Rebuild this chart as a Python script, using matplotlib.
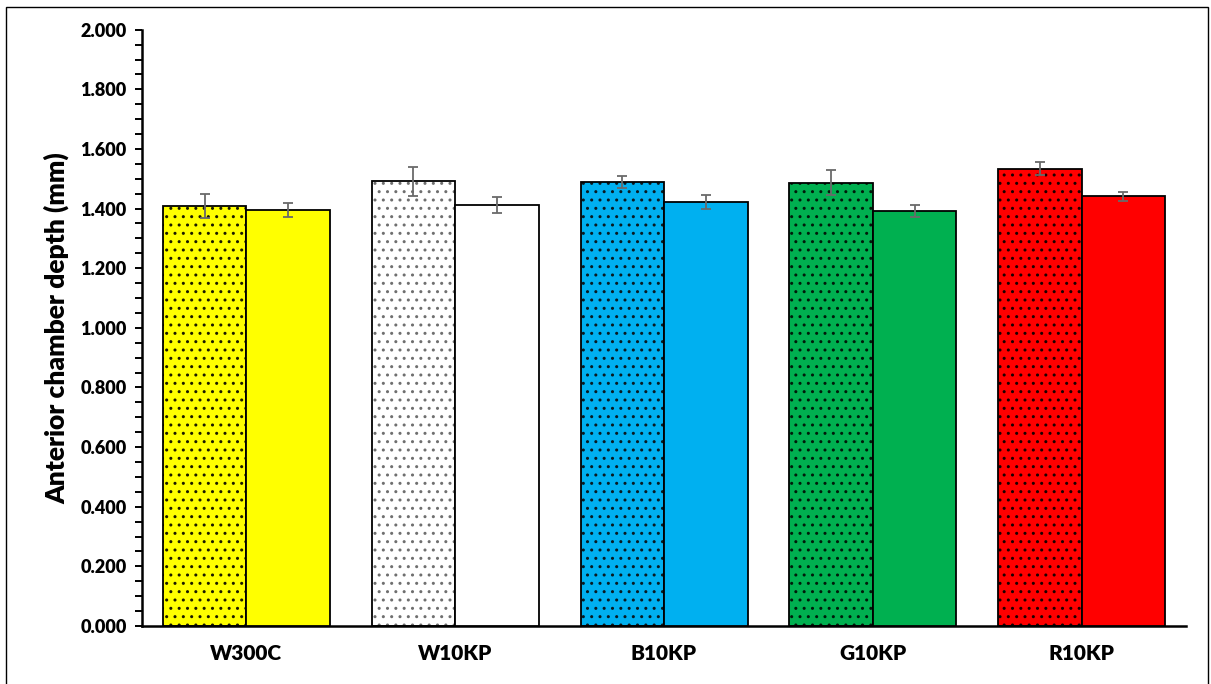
import matplotlib
matplotlib.use("Agg")
import matplotlib.pyplot as plt
import numpy as np
from matplotlib.patches import Rectangle
from matplotlib.ticker import MultipleLocator, FormatStrFormatter

# Anterior chamber depth per light condition (mm)
categories = ["W300C", "W10KP", "B10KP", "G10KP", "R10KP"]
dotted_means = [1.409, 1.491, 1.489, 1.487, 1.534]
dotted_err = [0.041, 0.050, 0.021, 0.043, 0.023]
plain_means = [1.396, 1.412, 1.423, 1.393, 1.441]
plain_err = [0.024, 0.027, 0.023, 0.020, 0.015]
bar_colors = ["#FFFF00", "#FFFFFF", "#00B0F0", "#00B050", "#FF0000"]
dot_colors = ["#1a1a00", "#6f6f6f", "#0a1a20", "#001a0a", "#1a0000"]

plt.rcParams["font.family"] = ["Lato", "DejaVu Sans"]
plt.rcParams["hatch.linewidth"] = 1.0

fig = plt.figure(figsize=(12.11, 6.84), dpi=100)
ax = fig.add_axes([0.1173, 0.0848, 0.9794 - 0.1173, 0.9566 - 0.0848])

x = np.arange(len(categories))
w = 0.4
err_kw = dict(ecolor="#6a6a6a", elinewidth=1.3, capsize=3.3, capthick=1.3)

for i in range(len(categories)):
    # dotted bar: hatch layer then outline
    ax.bar(x[i] - w / 2, dotted_means[i], width=w, color=bar_colors[i],
           edgecolor=dot_colors[i], hatch="..", linewidth=0, zorder=2)
    ax.bar(x[i] - w / 2, dotted_means[i], width=w, facecolor="none",
           edgecolor="black", linewidth=1.3, zorder=3)
    ax.errorbar(x[i] - w / 2, dotted_means[i], yerr=dotted_err[i], fmt="none",
                zorder=4, **err_kw)
    # plain bar
    ax.bar(x[i] + w / 2, plain_means[i], width=w, color=bar_colors[i],
           edgecolor="black", linewidth=1.3, zorder=3)
    ax.errorbar(x[i] + w / 2, plain_means[i], yerr=plain_err[i], fmt="none",
                zorder=4, **err_kw)

ax.set_xlim(-0.5, len(categories) - 0.5)
ax.set_ylim(0, 2.0)
ax.yaxis.set_major_locator(MultipleLocator(0.2))
ax.yaxis.set_minor_locator(MultipleLocator(0.05))
ax.yaxis.set_major_formatter(FormatStrFormatter("%.3f"))

ax.set_xticks(x)
ax.set_xticklabels(categories, fontsize=15, fontweight="heavy")
ax.tick_params(axis="x", length=0, pad=13)
ax.tick_params(axis="y", which="major", length=5, width=1.4, labelsize=13, pad=6)
ax.tick_params(axis="y", which="minor", length=5, width=1.4)
for lbl in ax.get_yticklabels():
    lbl.set_fontweight("heavy")

for s in ["top", "right"]:
    ax.spines[s].set_visible(False)
for s in ["left", "bottom"]:
    ax.spines[s].set_linewidth(1.8)

ax.set_ylabel("Anterior chamber depth (mm)", fontsize=19, fontweight="heavy", labelpad=8)

# frame around the whole chart
fig.add_artist(Rectangle((6 / 1211, -0.05), 1202 / 1211, 1.05 - 7 / 684,
                         transform=fig.transFigure, fill=False,
                         edgecolor="black", linewidth=1.0))

fig.savefig("out.png", dpi=100)
